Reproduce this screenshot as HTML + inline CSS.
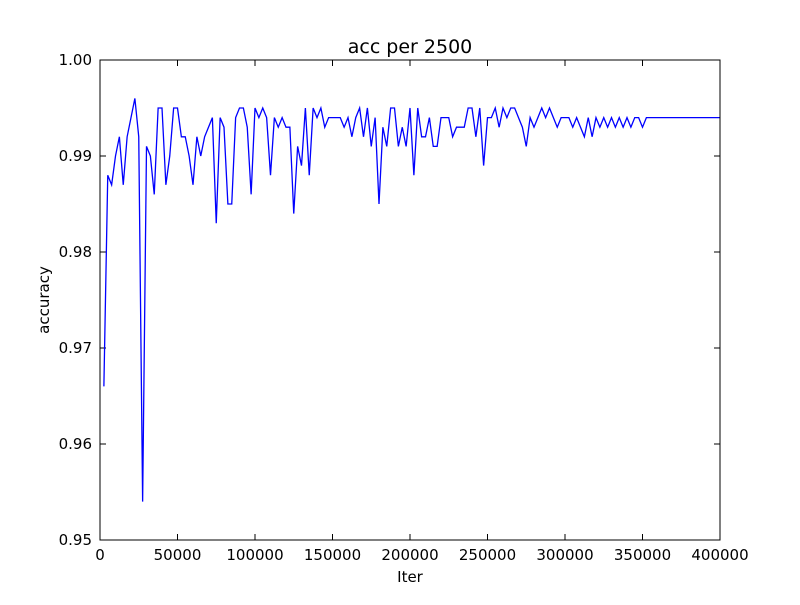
<!DOCTYPE html>
<html><head><meta charset="utf-8"><style>
body{margin:0;background:#fff;}
svg text{font-family:"DejaVu Sans","Liberation Sans",sans-serif;fill:#000;}
</style></head><body>
<svg id="chart" width="800" height="600" xmlns="http://www.w3.org/2000/svg">
<rect width="800" height="600" fill="#fff"/>
<text x="410" y="53" font-size="19" text-anchor="middle">acc per 2500</text>
<text x="410" y="582" font-size="15" text-anchor="middle">Iter</text>
<text transform="translate(49,300) rotate(-90)" font-size="15" text-anchor="middle">accuracy</text>
<g id="ticks"></g>
<path id="line" fill="none" stroke="#0000ff" stroke-width="1.3" stroke-linejoin="miter"/>
<rect x="100" y="60" width="620" height="480" fill="none" stroke="#000" stroke-width="1"/>
</svg>
<script>
const step = 2500;
const acc = [
.966,.988,.987,.990,.992,.987,.992,.994,.996,.992,
.954,.991,.990,.986,.995,.995,.987,.990,.995,.995,
.992,.992,.990,.987,.992,.990,.992,.993,.994,.983,
.994,.993,.985,.985,.994,.995,.995,.993,.986,.995,
.994,.995,.994,.988,.994,.993,.994,.993,.993,.984,
.991,.989,.995,.988,.995,.994,.995,.993,.994,.994,
.994,.994,.993,.994,.992,.994,.995,.992,.995,.991,
.994,.985,.993,.991,.995,.995,.991,.993,.991,.995,
.988,.995,.992,.992,.994,.991,.991,.994,.994,.994,
.992,.993,.993,.993,.995,.995,.992,.995,.989,.994,
.994,.995,.993,.995,.994,.995,.995,.994,.993,.991,
.994,.993,.994,.995,.994,.995,.994,.993,.994,.994,
.994,.993,.994,.993,.992,.994,.992,.994,.993,.994,
.993,.994,.993,.994,.993,.994,.993,.994,.994,.993,
.994,.994,.994,.994,.994,.994,.994,.994,.994,.994,
.994,.994,.994,.994,.994,.994,.994,.994,.994,.994
];
const xTicks = [0,50000,100000,150000,200000,250000,300000,350000,400000];
const yTicks = [0.95,0.96,0.97,0.98,0.99,1.00];
const yTickLabels = ["0.95","0.96","0.97","0.98","0.99","1.00"];
const X0=100,X1=720,Y0=540,Y1=60;
const xs = v => X0 + (v-0)/(400000-0)*(X1-X0);
const ys = v => Y0 - (v-0.95)/(1.00-0.95)*(Y0-Y1);
const NS="http://www.w3.org/2000/svg";
const g=document.getElementById('ticks');
function mk(tag,attrs){const e=document.createElementNS(NS,tag);for(const k in attrs)e.setAttribute(k,attrs[k]);g.appendChild(e);return e;}
xTicks.forEach(t=>{
  const x=xs(t);
  const a=mk('line',{x1:x,x2:x,y1:Y0,y2:Y0-6,stroke:'#000'});
  
  
  const b=mk('line',{x1:x,x2:x,y1:Y1,y2:Y1+6,stroke:'#000'});
  
  
  const tx=mk('text',{x:x,y:Y0+20,'font-size':15,'text-anchor':'middle'});
  tx.textContent=String(t);
  
  
});
yTicks.forEach((t,i)=>{
  const y=ys(t);
  const a=mk('line',{x1:X0,x2:X0+6,y1:y,y2:y,stroke:'#000'});
  
  
  const b=mk('line',{x1:X1,x2:X1-6,y1:y,y2:y,stroke:'#000'});
  
  
  const tx=mk('text',{x:X0-8,y:y+5,'font-size':15,'text-anchor':'end'});
  tx.textContent=yTickLabels[i];
  
  
});
document.getElementById('line').setAttribute('d',
  acc.map((v,i)=>(i?'L':'M')+xs(step*(i+1)).toFixed(2)+','+ys(v).toFixed(2)).join(''));
</script>
</body></html>
